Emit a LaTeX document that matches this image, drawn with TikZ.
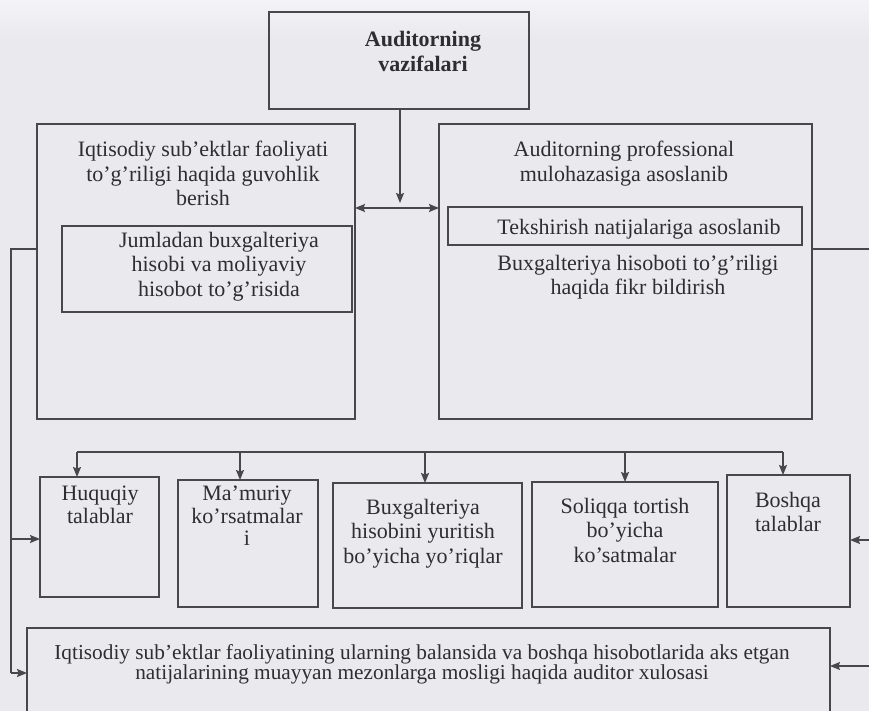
\documentclass[tikz,border=0pt]{standalone}
\usepackage{fontspec}
\setmainfont{Liberation Serif}
\usetikzlibrary{arrows.meta}
\definecolor{paper}{RGB}{233,233,238}
\definecolor{paperlight}{RGB}{244,244,247}
\definecolor{ink}{RGB}{72,72,76}
\definecolor{txtc}{RGB}{45,45,50}

% rectangle node spanning (x1,y1)-(x2,y2), y measured downwards
\newcommand\boxnode[5]{%
  \node[frame, minimum width={(#4-#2)*1pt}, minimum height={(#5-#3)*1pt}]
    (#1) at ({(#2+#4)/2},{(#3+#5)/2}) {};}

\begin{document}
\begin{tikzpicture}[x=1pt, y=-1pt,
  frame/.style={draw=ink, line width=1.2pt, inner sep=0pt, outer sep=0pt},
  wire/.style={draw=ink, line width=1.2pt},
  arr/.style={wire, -{Stealth[length=10pt,width=8pt,inset=1.5pt]}},
  darr/.style={wire, {Stealth[length=10pt,width=8pt,inset=1.5pt]}-{Stealth[length=10pt,width=8pt,inset=1.5pt]}},
  lbl/.style={text=txtc, font=\fontsize{22}{24.5}\selectfont, align=center,
              inner sep=0pt, anchor=north, execute at begin node=\strut},
  lbls/.style={lbl, font=\fontsize{22}{22.5}\selectfont},
  lblb/.style={lbl, font=\fontsize{21.3}{20.5}\selectfont},
  ttl/.style={lbl, font=\fontsize{22}{25}\selectfont\bfseries}]

\useasboundingbox (0,0) rectangle (869,711);
\fill[paper] (0,0) rectangle (869,711);
\shade[top color=paperlight, bottom color=paper] (0,0) rectangle (869,40);
\clip (0,0) rectangle (869,711);

% boxes
\boxnode{top}{269}{12}{529}{109}
\boxnode{left}{37}{124}{355}{419}
\boxnode{leftin}{62}{226}{352}{312}
\boxnode{right}{439}{124}{812}{419}
\boxnode{rightin}{448}{207}{802}{245}
\boxnode{huq}{40}{477}{159}{597}
\boxnode{mam}{178}{480}{318}{607}
\boxnode{bux}{333}{483}{522}{608}
\boxnode{sol}{532}{482}{718}{607}
\boxnode{bos}{727}{475}{850}{607}
\boxnode{res}{27}{628}{830}{740}

% texts
\node[ttl] (t-top) at (423,31) {Auditorning\\vazifalari};
\node[lbl] (t-left) at (203,141) {Iqtisodiy sub'ektlar faoliyati\\to'g'riligi haqida guvohlik\\berish};
\node[lbl] (t-leftin) at (219,232) {Jumladan buxgalteriya\\hisobi va moliyaviy\\hisobot to'g'risida};
\node[lbl] (t-right) at (624,141) {Auditorning professional\\mulohazasiga asoslanib};
\node[lbl] (t-rightin) at (639,217) {Tekshirish natijalariga asoslanib};
\node[lbl] (t-right2) at (638,255) {Buxgalteriya hisoboti to'g'riligi\\haqida fikr bildirish};
\node[lbls] (t-huq) at (100,486) {Huquqiy\\talablar};
\node[lbls] (t-mam) at (247,486) {Ma'muriy\\ko'rsatmalar\\i};
\node[lbl] (t-bux) at (423,499) {Buxgalteriya\\hisobini yuritish\\bo'yicha yo'riqlar};
\node[lbl] (t-sol) at (625,498) {Soliqqa tortish\\bo'yicha\\ko'satmalar};
\node[lbl] (t-bos) at (788,492) {Boshqa\\talablar};
\node[lblb] (t-res) at (422,644) {Iqtisodiy sub'ektlar faoliyatining ularning balansida va boshqa hisobotlarida aks etgan\\natijalarining muayyan mezonlarga mosligi haqida auditor xulosasi};

% junctions
\coordinate (hub) at (400,208);
\coordinate (hubtip) at (400,203);
\coordinate (lc) at (11,249);
\coordinate (la) at (11,539);
\coordinate (lb) at (11,673);
\coordinate (rc) at (875,249);
\coordinate (ra) at (875,540);
\coordinate (rb) at (875,666);
\coordinate (b1) at (77,452);
\coordinate (b2) at (240,452);
\coordinate (b3) at (425,452);
\coordinate (b4) at (625,452);
\coordinate (b5) at (783,452);

% connectors
\draw[arr] (top.south -| hubtip) -- (hubtip);
\draw[darr] (left.east |- hub) -- (right.west |- hub);
\draw[wire] (left.west |- lc) -- (lc) -- (lb);
\draw[arr] (la) -- (huq.west |- la);
\draw[arr] (lb) -- (res.west |- lb);
\draw[wire] (right.east |- rc) -- (rc) -- (rb);
\draw[arr] (ra) -- (bos.east |- ra);
\draw[arr] (rb) -- (res.east |- rb);
\draw[wire] (b1) -- (b5);
\draw[arr] (b1) -- (b1 |- huq.north);
\draw[arr] (b2) -- (b2 |- mam.north);
\draw[arr] (b3) -- (b3 |- bux.north);
\draw[arr] (b4) -- (b4 |- sol.north);
\draw[arr] (b5) -- (b5 |- bos.north);
\end{tikzpicture}
\end{document}
